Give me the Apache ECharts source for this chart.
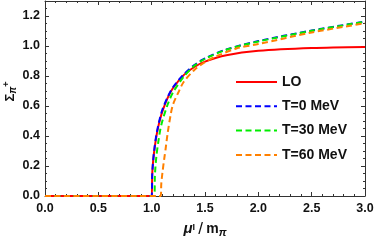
<!DOCTYPE html>
<html><head><meta charset="utf-8">
<script src="https://cdn.jsdelivr.net/npm/echarts@6/dist/echarts.min.js"></script>
<style>html,body{margin:0;padding:0;background:#fff}#c{width:374px;height:243px}</style>
</head><body><div id="c"></div>
<script>
var seriesNames = ['LO', 'T=0 MeV', 'T=30 MeV', 'T=60 MeV'];
var xTicks = ['0.0','0.5','1.0','1.5','2.0','2.5','3.0'];
var yTicks = ['0.0','0.2','0.4','0.6','0.8','1.0','1.2'];

var muLO    = [0, 0.5, 1.0, 1.005, 1.01, 1.02, 1.04, 1.06, 1.08, 1.1, 1.15, 1.2, 1.3, 1.4, 1.5, 1.7, 2.0, 2.5, 3.0];
var sigLO   = [0, 0,   0,   0.14,  0.20, 0.276,0.381,0.456,0.515,0.563,0.654,0.72,0.806,0.86,0.896,0.938,0.968,0.987,0.994];

var muT0    = [0, 0.5, 1.0, 1.005, 1.01, 1.02, 1.04, 1.06, 1.08, 1.1, 1.15, 1.2, 1.3, 1.4, 1.5, 1.7, 2.0, 2.5, 3.0];
var sigT0   = [0, 0,   0,   0.14,  0.20, 0.28, 0.39, 0.465,0.525,0.575,0.66, 0.725,0.81,0.873,0.918,0.977,1.033,1.103,1.163];

var muT30   = [0, 0.5, 1.025, 1.03, 1.035, 1.045, 1.06, 1.08, 1.1, 1.15, 1.2, 1.3, 1.4, 1.5, 1.7, 2.0, 2.5, 3.0];
var sigT30  = [0, 0,   0,     0.13, 0.19,  0.27,  0.35, 0.44, 0.50, 0.61, 0.69, 0.795,0.868,0.914,0.975,1.03,1.101,1.162];

var muT60   = [0, 0.5, 1.085, 1.09, 1.1,  1.12, 1.13, 1.15, 1.18, 1.2,  1.25, 1.3,  1.4,  1.5,  1.6,  1.8,  2.0,  2.5,  3.0];
var sigT60  = [0, 0,   0,     0.08, 0.15, 0.26, 0.31, 0.42, 0.55, 0.61, 0.69, 0.76, 0.84, 0.893,0.93, 0.985,1.013,1.09, 1.152];

function zip(a, b) { return a.map(function (v, i) { return [v, b[i]]; }); }

var colors = ['#ff0000', '#0000ff', '#00ee00', '#ff8000'];
var dashes = ['solid', [6, 3.5], [6, 3.5], [6, 3.5]];
var datas = [zip(muLO, sigLO), zip(muT0, sigT0), zip(muT30, sigT30), zip(muT60, sigT60)];

var frame = '#333';
var SANS = 'Liberation Sans, Arial, sans-serif';
var labelFont = { color: '#111', fontWeight: 'bold', fontSize: 12.5, fontFamily: SANS };

var chart = echarts.init(document.getElementById('c'), null, { renderer: 'canvas' });
var series = seriesNames.map(function (n, i) {
  return {
    name: n, type: 'line', data: datas[i], symbol: 'none', smooth: 0.3,
    lineStyle: { color: colors[i], width: 2, type: dashes[i] },
    itemStyle: { color: colors[i] }, z: 2 + i
  };
});

function mkX(pos, show) {
  return {
    type: 'value', min: 0, max: 3, interval: 0.5, position: pos,
    axisLine: { show: true, onZero: false, lineStyle: { color: frame, width: 1 } },
    axisTick: { show: true, inside: true, length: 4, lineStyle: { color: frame } },
    minorTick: { show: true, splitNumber: 5, length: 2, lineStyle: { color: frame } },
    splitLine: { show: false },
    axisLabel: show ? Object.assign({ margin: 6, formatter: function (v) { return xTicks[Math.round(v / 0.5)]; } }, labelFont) : { show: false },
    name: show ? '{mu|μ}{sub|I} {sl|/} {m|m}{sub2|π}' : '',
    nameLocation: 'middle', nameGap: 24, nameMoveOverlap: false,
    nameTextStyle: {
      rich: {
        mu: { fontSize: 15, fontStyle: 'italic', fontWeight: 'bold', color: '#111', fontFamily: SANS },
        sub: { fontSize: 9, fontWeight: 'bold', color: '#111', padding: [0, 0, 3, 0], fontFamily: SANS },
        sl: { fontSize: 17, color: '#111', fontFamily: SANS },
        m: { fontSize: 14, fontWeight: 'bold', color: '#111', fontFamily: SANS },
        sub2: { fontSize: 11, fontWeight: 'bold', fontStyle: 'italic', color: '#111', padding: [7, 0, 0, 0], fontFamily: SANS }
      }
    }
  };
}
function mkY(pos, show) {
  return {
    type: 'value', min: 0, max: 1.3, interval: 0.2, position: pos,
    axisLine: { show: true, onZero: false, lineStyle: { color: frame, width: 1 } },
    axisTick: { show: true, inside: true, length: 4, lineStyle: { color: frame } },
    minorTick: { show: true, splitNumber: 4, length: 2, lineStyle: { color: frame } },
    splitLine: { show: false },
    axisLabel: show ? Object.assign({ margin: 5, showMaxLabel: false, formatter: function (v) { var k = Math.round(v / 0.2); return yTicks[k] || ''; } }, labelFont) : { show: false },
    name: show ? '{s|Σ}{sub|π}{sup|+}' : '',
    nameLocation: 'middle', nameGap: 26, nameRotate: 90, nameMoveOverlap: false,
    nameTextStyle: {
      padding: [0, 0, 0, 14],
      rich: {
        s: { fontSize: 13, fontWeight: 'bold', color: '#111', fontFamily: SANS },
        sub: { fontSize: 10, fontWeight: 'bold', fontStyle: 'italic', color: '#111', padding: [6, 0, 0, 0], fontFamily: SANS },
        sup: { fontSize: 9, fontWeight: 'bold', color: '#111', padding: [0, 0, 8, 0], fontFamily: SANS }
      }
    }
  };
}

chart.setOption({
  animation: false,
  backgroundColor: '#fff',
  grid: { left: 45, right: 9, top: 1, bottom: 47, containLabel: false, outerBoundsMode: 'none' },
  xAxis: [mkX('bottom', true), mkX('top', false)],
  yAxis: [mkY('left', true), mkY('right', false)],
  legend: {
    orient: 'vertical', left: 235, top: 75, padding: 0, itemWidth: 41, itemHeight: 14, itemGap: 10.3,
    data: seriesNames,
    itemStyle: { opacity: 0 },
    textStyle: { fontSize: 14, fontWeight: 'bold', color: '#111', fontFamily: SANS },
    selectedMode: false
  },
  series: series
});
</script></body></html>
